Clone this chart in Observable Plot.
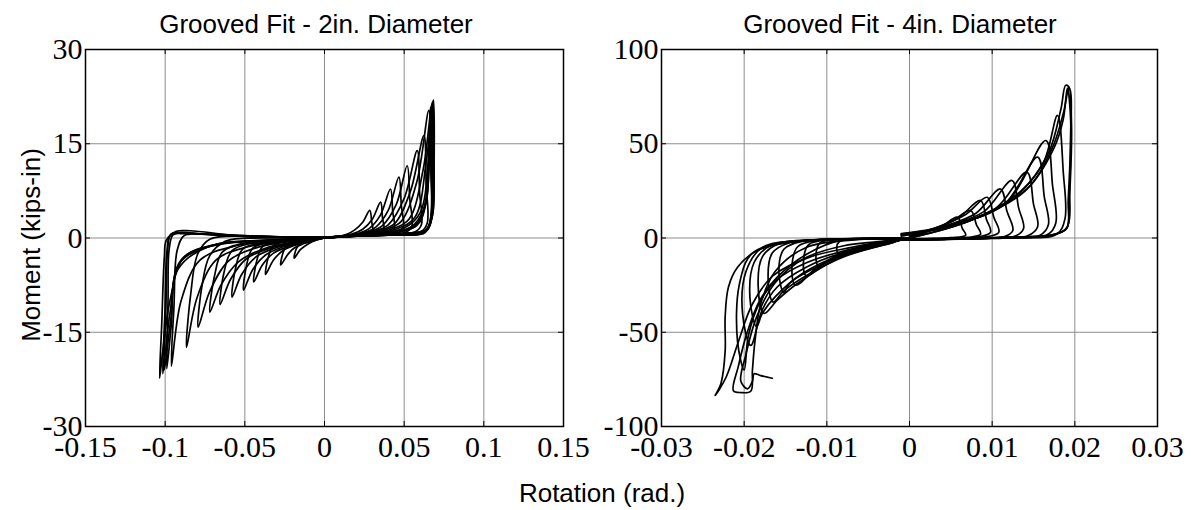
<!DOCTYPE html>
<html><head><meta charset="utf-8">
<script src="https://cdn.jsdelivr.net/npm/d3@7"></script>
<script src="https://cdn.jsdelivr.net/npm/@observablehq/plot@0.6"></script>
<style>
body{margin:0;background:#fff;}
#wrap{position:relative;width:1191px;height:510px;overflow:hidden;background:#fff;}
#wrap > svg{position:absolute;top:0;}
</style></head><body><div id="wrap"></div>
<script>
// ---------- texts ----------
const titles = ["Grooved Fit - 2in. Diameter", "Grooved Fit - 4in. Diameter"];
const xLabel = "Rotation (rad.)";
const yLabel = "Moment (kips-in)";

// ---------- ticks ----------
const xTicks2 = [-0.15, -0.1, -0.05, 0, 0.05, 0.1, 0.15];
const xTickLabels2 = ["-0.15", "-0.1", "-0.05", "0", "0.05", "0.1", "0.15"];
const yTicks2 = [-30, -15, 0, 15, 30];
const yTickLabels2 = ["-30", "-15", "0", "15", "30"];
const xTicks4 = [-0.03, -0.02, -0.01, 0, 0.01, 0.02, 0.03];
const xTickLabels4 = ["-0.03", "-0.02", "-0.01", "0", "0.01", "0.02", "0.03"];
const yTicks4 = [-100, -50, 0, 50, 100];
const yTickLabels4 = ["-100", "-50", "0", "50", "100"];

// ---------- 2in. cycles [rotation, moment] ----------
const g2c01 = [[0,0],[0.008,0.2],[0.014,0.6],[0.019,1.3],[0.024,2.5],[0.0284,4.4],[0.0296,2.6],[0.0302,1.1],[0.027,0.5],[0.015,0.3],[0.005,0.1],[0,0],
  [-0.005,-0.3],[-0.010,-0.9],[-0.015,-1.8],[-0.019,-3.2],[-0.0175,-1.6],[-0.014,-0.6],[-0.008,-0.1],[0,0.1]];
const g2c02 = [[0,0.1],[0.01,0.3],[0.018,0.7],[0.024,1.4],[0.030,3.0],[0.0352,5.7],[0.0364,3.2],[0.0372,1.3],[0.034,0.6],[0.02,0.4],[0.008,0.2],[0,0],
  [-0.006,-0.4],[-0.014,-1.0],[-0.019,-1.6],[-0.023,-2.6],[-0.0275,-4.3],[-0.0258,-2.2],[-0.023,-0.9],[-0.016,-0.4],[-0.006,-0.1],[0,0.1]];
const g2c03 = [[0,0.1],[0.012,0.35],[0.022,0.8],[0.028,1.5],[0.035,3.6],[0.0414,7.8],[0.0428,4.2],[0.0438,1.5],[0.040,0.7],[0.025,0.45],[0.01,0.2],[0,0],
  [-0.008,-0.4],[-0.018,-1.1],[-0.026,-2.0],[-0.032,-3.5],[-0.037,-5.8],[-0.0352,-3.0],[-0.032,-1.2],[-0.024,-0.5],[-0.01,-0.1],[0,0.1]];
const g2c04 = [[0,0.1],[0.014,0.4],[0.025,0.9],[0.032,1.7],[0.040,4.4],[0.0467,9.7],[0.0482,5.2],[0.0494,1.7],[0.046,0.8],[0.03,0.5],[0.012,0.25],[0,0],
  [-0.01,-0.5],[-0.022,-1.3],[-0.032,-2.4],[-0.039,-4.3],[-0.0444,-7.0],[-0.0425,-3.6],[-0.039,-1.4],[-0.03,-0.6],[-0.012,-0.15],[0,0.1]];
const g2c05 = [[0,0.1],[0.016,0.45],[0.028,1.0],[0.036,1.9],[0.045,5.3],[0.0519,11.5],[0.0535,6.2],[0.0548,1.9],[0.051,0.9],[0.035,0.55],[0.014,0.3],[0,0],
  [-0.012,-0.5],[-0.026,-1.4],[-0.037,-2.7],[-0.045,-5.0],[-0.0508,-8.3],[-0.0488,-4.2],[-0.045,-1.6],[-0.035,-0.7],[-0.014,-0.2],[0,0.1]];
const g2c06 = [[0,0.1],[0.018,0.5],[0.031,1.1],[0.040,2.1],[0.050,6.3],[0.0582,13.9],[0.0597,7.2],[0.0608,2.1],[0.057,1.0],[0.04,0.6],[0.016,0.3],[0,0],
  [-0.014,-0.6],[-0.03,-1.5],[-0.043,-3.0],[-0.052,-5.8],[-0.058,-9.4],[-0.0558,-4.8],[-0.0515,-1.8],[-0.04,-0.8],[-0.016,-0.2],[0,0.1]];
const g2c07 = [[0,0.1],[0.02,0.5],[0.034,1.2],[0.044,2.3],[0.054,7.5],[0.0624,16.3],[0.0638,8.5],[0.0645,2.4],[0.061,1.1],[0.045,0.65],[0.018,0.3],[0,0],
  [-0.016,-0.6],[-0.034,-1.6],[-0.049,-3.3],[-0.059,-6.6],[-0.0655,-10.6],[-0.063,-5.4],[-0.058,-2.0],[-0.045,-0.8],[-0.018,-0.2],[0,0.1]];
const g2c08 = [[0,0.1],[0.022,0.55],[0.038,1.3],[0.048,2.6],[0.058,9.0],[0.0655,20.3],[0.0668,10.5],[0.0668,3.0],[0.063,1.2],[0.048,0.7],[0.02,0.35],[0,0],
  [-0.018,-0.6],[-0.038,-1.7],[-0.054,-3.8],[-0.065,-7.5],[-0.0719,-11.8],[-0.069,-6.0],[-0.064,-2.2],[-0.05,-0.8],[-0.02,-0.2],[0,0.1]];
const g2c09 = [[0,0.1],[0.025,0.6],[0.042,1.4],[0.053,3.0],[0.062,11],[0.0676,21.6],[0.0684,12.5],[0.0678,3.6],[0.064,1.3],[0.05,0.75],[0.022,0.35],[0,0],
  [-0.02,-0.5],[-0.042,-1.5],[-0.06,-3.6],[-0.072,-8.5],[-0.0793,-14.2],[-0.0768,-7.5],[-0.072,-2.8],[-0.062,-0.5],[-0.04,0.0],[-0.015,0.0],[0,0.1]];
const g2c10 = [[0,0.1],[0.028,0.6],[0.046,1.5],[0.057,3.4],[0.064,12.5],[0.0684,22.0],[0.0688,12.0],[0.068,4.0],[0.065,1.5],[0.062,0.7],[0.045,0.5],[0.02,0.3],[0,0],
  [-0.022,-0.4],[-0.048,-1.4],[-0.068,-3.5],[-0.080,-9.5],[-0.0866,-17.4],[-0.084,-9.0],[-0.0795,-2.5],[-0.072,-0.2],[-0.05,0.3],[-0.02,0.1],[0,0.1]];
const g2c11 = [[0,0.1],[0.03,0.6],[0.05,1.6],[0.06,4.0],[0.0655,13.5],[0.0672,21.2],[0.0678,12],[0.0672,3.5],[0.065,1.4],[0.06,0.7],[0.04,0.45],[0.015,0.25],[0,0],
  [-0.025,-0.4],[-0.055,-1.2],[-0.078,-3.5],[-0.09,-10],[-0.0961,-20.4],[-0.0945,-11],[-0.0925,-2],[-0.088,0.4],[-0.075,0.6],[-0.05,0.4],[-0.02,0.15],[0,0.1]];
const g2c12 = [[0,0.1],[0.032,0.6],[0.054,1.7],[0.062,4.5],[0.066,14],[0.068,21.8],[0.0685,13],[0.0676,3.8],[0.065,1.5],[0.0605,0.7],[0.04,0.45],[0.015,0.25],[0,0],
  [-0.03,-0.3],[-0.065,-1.0],[-0.088,-3.0],[-0.097,-10],[-0.1015,-18],[-0.1035,-22.3],[-0.1022,-14],[-0.1005,-3],[-0.0993,-0.4],[-0.093,1.05],[-0.0845,1.15],[-0.0634,0.6],[-0.0486,0.2],[-0.02,0.1],[0,0.1]];
const g2c13 = [[0,0.1],[0.034,0.6],[0.056,1.8],[0.063,5],[0.0655,13],[0.0665,20.5],[0.067,11],[0.0668,3.5],[0.0645,1.4],[0.06,0.7],[0.04,0.45],[0.015,0.25],[0,0],
  [-0.03,-0.3],[-0.068,-1.0],[-0.09,-3.5],[-0.097,-12],[-0.1015,-21.6],[-0.1002,-12],[-0.099,-2.5],[-0.097,0.3],[-0.092,0.8],[-0.08,0.7],[-0.06,0.4],[-0.03,0.15],[0,0.1]];
const g2c14 = [[0,0.1],[0.035,0.6],[0.057,1.9],[0.0635,5.5],[0.066,14],[0.0678,21.3],[0.0682,12],[0.0674,3.6],[0.065,1.5],[0.061,0.75],[0.04,0.5],[0.015,0.25],[0,0],
  [-0.03,-0.35],[-0.07,-1.2],[-0.091,-4],[-0.0965,-13],[-0.1005,-21],[-0.0995,-11],[-0.0985,-2],[-0.0965,0.6],[-0.09,0.9],[-0.075,0.6],[-0.05,0.3],[-0.02,0.1],[0,0.1]];
const g2c15 = [[0,0.1],[0.036,0.65],[0.058,2.0],[0.064,6],[0.0655,12],[0.0665,20.8],[0.0675,12.5],[0.067,3.8],[0.0648,1.5],[0.0605,0.75],[0.04,0.5],[0.015,0.25],[0,0],
  [-0.03,-0.35],[-0.072,-1.3],[-0.092,-5],[-0.0962,-14],[-0.099,-20.8],[-0.0982,-10],[-0.0975,-1.8],[-0.095,0.5],[-0.088,0.7],[-0.07,0.5],[-0.04,0.2],[0,0.1]];
const cycles2in = [g2c01,g2c02,g2c03,g2c04,g2c05,g2c06,g2c07,g2c08,g2c09,g2c10,g2c11,g2c12,g2c13,g2c14,g2c15];

// ---------- 4in. cycles [rotation, moment] ----------
const g4c01 = [[0,0],[0.002,3],[0.004,6.5],[0.0058,11],[0.0064,5],[0.0068,1.5],[0.005,0.2],[0.002,-0.3],[0,-0.5],
  [-0.002,-1.2],[-0.005,-3.5],[-0.0085,-9],[-0.0088,-5],[-0.0085,-2],[-0.0065,-0.6],[-0.003,-0.1],[0,0]];
const g4c02 = [[0,0.5],[0.0025,4],[0.005,8.5],[0.0074,14.6],[0.0081,7],[0.0086,2],[0.007,0.3],[0.003,-0.3],[0,-0.6],
  [-0.002,-1.5],[-0.006,-5.5],[-0.009,-9.5],[-0.011,-15],[-0.0113,-8],[-0.0108,-2.5],[-0.008,-0.7],[-0.004,-0.2],[0,0]];
const g4c03 = [[0,1],[0.003,5],[0.006,11],[0.0086,19.9],[0.0093,10],[0.0098,3],[0.008,0.4],[0.004,-0.4],[0,-0.8],
  [-0.002,-1.6],[-0.0065,-6.5],[-0.0098,-12],[-0.0125,-20],[-0.0128,-11],[-0.0122,-3.5],[-0.0095,-0.9],[-0.005,-0.3],[0,0]];
const g4c04 = [[0,1.5],[0.0035,6],[0.0068,12.5],[0.0094,21.6],[0.0102,11],[0.0108,3],[0.009,0.5],[0.005,-0.4],[0,-0.8],
  [-0.002,-1.8],[-0.007,-7.5],[-0.011,-15],[-0.0138,-25],[-0.0142,-14],[-0.0135,-4.5],[-0.011,-1.2],[-0.006,-0.4],[0,0]];
const g4c05 = [[0,1.5],[0.004,6],[0.008,13],[0.011,26],[0.0118,14],[0.0125,4],[0.0115,0.8],[0.007,-0.4],[0.002,-0.8],[-0.001,-1],
  [-0.002,-2],[-0.0075,-8.5],[-0.0115,-16],[-0.0145,-24],[-0.0152,-29],[-0.0158,-18],[-0.0152,-6],[-0.013,-1.8],[-0.008,-0.5],[-0.003,-0.1],[0,0]];
const g4c06 = [[0,1.5],[0.0045,6.5],[0.009,14],[0.0124,30.5],[0.0132,16],[0.0138,5],[0.0128,1],[0.008,-0.3],[0.002,-0.8],[-0.001,-1],
  [-0.002,-2.3],[-0.008,-10],[-0.0125,-20],[-0.0152,-28],[-0.0165,-34],[-0.0171,-22],[-0.0166,-8],[-0.0145,-2.5],[-0.009,-0.7],[-0.003,-0.1],[0,0]];
const g4c07 = [[-0.001,1],[0.005,6.5],[0.0105,16],[0.0142,34.9],[0.015,18],[0.0155,6],[0.0143,1.2],[0.009,-0.2],[0.003,-0.8],[-0.001,-1],
  [-0.002,-2.5],[-0.0083,-10.2],[-0.0136,-24.3],[-0.016,-33],[-0.0176,-40],[-0.0183,-26],[-0.0178,-10],[-0.0158,-3],[-0.010,-0.8],[-0.003,-0.1],[0,0]];
const g4c08 = [[-0.001,1.5],[0.0055,7],[0.0115,18],[0.0155,42.9],[0.0163,22],[0.0168,7],[0.0158,1.5],[0.01,0],[0.003,-0.8],[-0.001,-1],
  [-0.002,-2],[-0.008,-8.5],[-0.013,-19],[-0.0162,-31],[-0.0178,-40],[-0.0185,-47],[-0.0193,-32],[-0.0188,-13],[-0.0168,-4],[-0.011,-1],[-0.004,-0.2],[0,0]];
const g4c09 = [[-0.001,2],[0.006,7.5],[0.012,20],[0.0165,51.7],[0.0173,28],[0.0177,8],[0.0167,1.8],[0.011,0.2],[0.004,-0.7],[-0.001,-1],
  [-0.002,-1.8],[-0.0075,-7],[-0.0125,-15.5],[-0.016,-26],[-0.0178,-38],[-0.0192,-57],[-0.0202,-40],[-0.0198,-18],[-0.0178,-5],[-0.012,-1.2],[-0.004,-0.2],[0,0]];
const g4c10 = [[-0.001,2],[0.0065,8],[0.0128,22],[0.0162,40],[0.0179,65],[0.0186,35],[0.0188,10],[0.0178,2],[0.012,0.3],[0.004,-0.7],[-0.001,-1],
  [-0.002,-1.5],[-0.0072,-6],[-0.0124,-13],[-0.016,-22],[-0.0181,-34],[-0.0195,-52],[-0.0200,-70],[-0.0208,-55],[-0.0206,-25],[-0.019,-8],[-0.014,-2],[-0.006,-0.4],[0,0]];
const g4c11 = [[-0.001,2.4],[0.007,9],[0.0135,25],[0.0168,45],[0.0183,68],[0.0189,81],[0.0194,79],[0.0195,55],[0.0193,20],[0.019,5],[0.0172,1.5],[0.012,0.5],[0.004,-0.6],[-0.001,-1],
  [-0.002,-1.3],[-0.007,-5],[-0.012,-10],[-0.0165,-20],[-0.019,-35],[-0.0207,-55],[-0.0222,-74],[-0.0235,-83.5],[-0.0228,-77],[-0.0223,-60],[-0.0223,-42],[-0.0219,-26],[-0.0208,-15.5],[-0.0184,-6.6],[-0.0144,-2.2],[-0.0083,-0.8],[0,0]];
const g4c12 = [[0,0],[0.0072,9],[0.014,25],[0.0172,47],[0.0186,66],[0.0193,80],[0.0196,60],[0.0194,25],[0.0191,6],[0.0175,1.8],[0.012,0.4],[0.004,-0.7],[-0.001,-1],
  [-0.0083,-1.3],[-0.0124,-8.5],[-0.016,-20.8],[-0.0181,-33],[-0.0197,-51],[-0.0207,-68],[-0.0213,-81],[-0.0204,-82],[-0.0192,-81.3],[-0.019,-70],[-0.0187,-55],[-0.018,-35],[-0.0163,-18],[-0.0125,-5],[-0.006,-0.8],[0,0]];
const g4c13 = [[0,0],[0.0075,9.5],[0.0142,26],[0.0175,48],[0.0186,63],[0.0191,79.5],[0.0195,62],[0.0192,20],[0.019,5],[0.017,1.5],[0.012,0.4],[0.004,-0.6],[-0.001,-1],
  [-0.002,-1.4],[-0.0078,-4],[-0.0128,-11],[-0.0163,-24],[-0.0185,-42],[-0.0198,-62],[-0.0204,-76],[-0.0196,-80],[-0.019,-76],[-0.0188,-72],[-0.018,-73],[-0.0166,-74.4]];
const cycles4in = [g4c01,g4c02,g4c03,g4c04,g4c05,g4c06,g4c07,g4c08,g4c09,g4c10,g4c11,g4c12,g4c13];

// ---------- drawing ----------
const wrap = document.getElementById("wrap");
const toRows = (cycles) => cycles.flatMap((c, i) => c.map(([x, y]) => ({x, y, c: i})));

function panel({cycles, xTicks, xLabels, yTicks, yLabels, left, width, marginLeft, marginRight}) {
  const xd = [xTicks[0], xTicks[xTicks.length - 1]];
  const yd = [yTicks[0], yTicks[yTicks.length - 1]];
  const xFmt = new Map(xTicks.map((t, i) => [t, xLabels[i]]));
  const yFmt = new Map(yTicks.map((t, i) => [t, yLabels[i]]));
  const chart = Plot.plot({
    width, height: 480,
    marginLeft, marginRight, marginTop: 49, marginBottom: 54,
    x: {domain: xd, label: null},
    y: {domain: yd, label: null},
    style: {background: "transparent", overflow: "visible", color: "black",
      fontFamily: "'Liberation Serif', 'Times New Roman', serif", fontSize: "30px"},
    marks: [
      Plot.gridX(xTicks, {stroke: "#8c8c8c", strokeOpacity: 1, strokeWidth: 1}),
      Plot.gridY(yTicks, {stroke: "#8c8c8c", strokeOpacity: 1, strokeWidth: 1}),
      Plot.line(toRows(cycles), {x: "x", y: "y", z: "c", stroke: "black", strokeWidth: 1.7, curve: "catmull-rom"}),
      Plot.ruleX(xTicks, {x: d => d, y1: yd[0], y2: yd[0], insetBottom: 5, stroke: "black"}),
      Plot.ruleX(xTicks, {x: d => d, y1: yd[1], y2: yd[1], insetBottom: -5, stroke: "black"}),
      Plot.ruleY(yTicks, {y: d => d, x1: xd[0], x2: xd[0], insetRight: -5, stroke: "black"}),
      Plot.ruleY(yTicks, {y: d => d, x1: xd[1], x2: xd[1], insetRight: 5, stroke: "black"}),
      Plot.frame({stroke: "black", strokeWidth: 1.5}),
      Plot.axisX(xTicks, {tickSize: 0, tickPadding: 9, tickFormat: d => xFmt.get(d), fontSize: 30, label: null}),
      Plot.axisY(yTicks, {tickSize: 0, tickPadding: 3, tickFormat: d => yFmt.get(d), fontSize: 30, label: null})
    ]
  });
  chart.style.left = left + "px";
  chart.style.position = "absolute";
  chart.style.top = "0px";
  wrap.appendChild(chart);
}

panel({cycles: cycles2in, xTicks: xTicks2, xLabels: xTickLabels2, yTicks: yTicks2, yLabels: yTickLabels2,
  left: 0, width: 600, marginLeft: 85, marginRight: 37});
panel({cycles: cycles4in, xTicks: xTicks4, xLabels: xTickLabels4, yTicks: yTicks4, yLabels: yTickLabels4,
  left: 580, width: 611, marginLeft: 81, marginRight: 34});

// ---------- titles and axis labels ----------
const ns = "http://www.w3.org/2000/svg";
const over = document.createElementNS(ns, "svg");
over.setAttribute("width", 1191); over.setAttribute("height", 510);
over.style.position = "absolute"; over.style.left = "0px"; over.style.top = "0px";
over.style.pointerEvents = "none";
function addText(txt, x, y, size, rot) {
  const t = document.createElementNS(ns, "text");
  t.textContent = txt;
  t.setAttribute("text-anchor", "middle");
  t.setAttribute("font-family", "'Liberation Sans', Arial, sans-serif");
  t.setAttribute("font-size", size);
  t.setAttribute("fill", "black");
  if (rot) t.setAttribute("transform", `translate(${x},${y}) rotate(-90)`);
  else { t.setAttribute("x", x); t.setAttribute("y", y); }
  over.appendChild(t);
}
addText(titles[0], 316, 33, 26);
addText(titles[1], 900, 33, 26);
addText(xLabel, 602, 502, 26);
addText(yLabel, 40, 245, 26, true);
wrap.appendChild(over);
</script>
</body></html>
